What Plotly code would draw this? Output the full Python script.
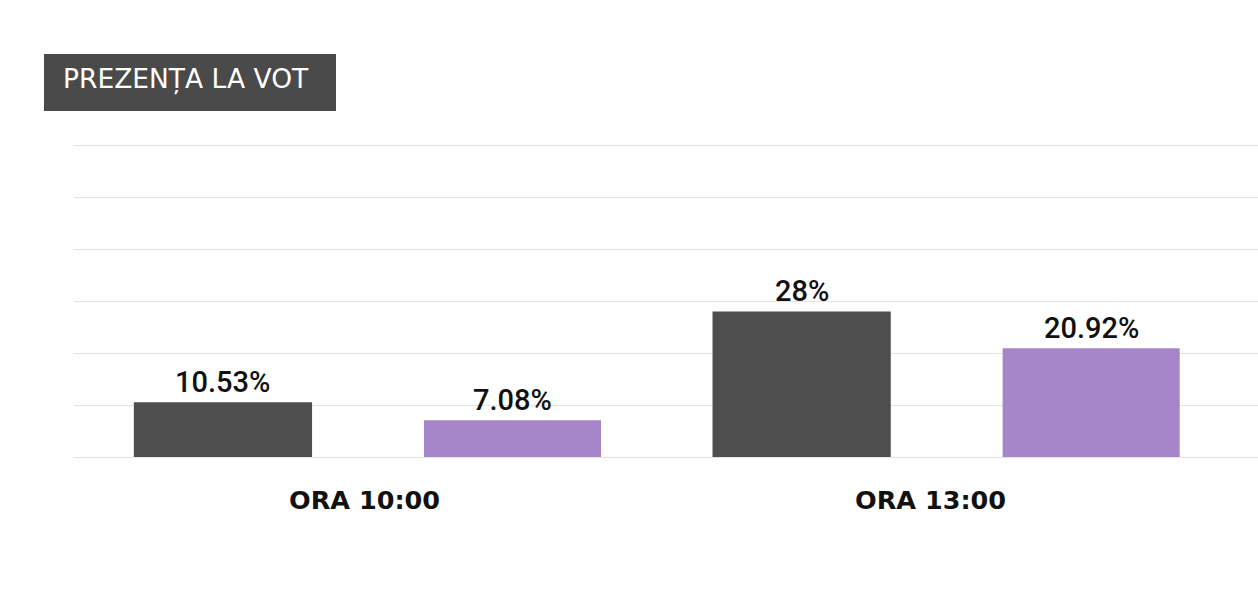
import plotly.graph_objects as go

categories = ["ORA 10:00", "ORA 13:00"]
series_a = [10.53, 28.0]      # dark
series_b = [7.08, 20.92]      # purple
labels_a = ["10.53%", "28%"]
labels_b = ["7.08%", "20.92%"]
title_text = "PREZENȚA LA VOT"

DARK = "#4e4e4e"
PURPLE = "#a686c8"

fig = go.Figure()
xs = list(range(len(categories)))
fig.add_trace(go.Bar(x=xs, y=series_a, marker=dict(color=DARK, line=dict(width=0)),
                     width=0.308, offset=-0.4036, hoverinfo="skip"))
fig.add_trace(go.Bar(x=xs, y=series_b, marker=dict(color=PURPLE, line=dict(width=0)),
                     width=0.306, offset=0.0977, hoverinfo="skip"))

ann = []
vfont = dict(family="Roboto", size=29, color="#111111", weight=500)
for i in xs:
    ann.append(dict(x=i, y=series_a[i], xref="x", yref="y", text=labels_a[i], showarrow=False,
                    xanchor="center", yanchor="bottom", xshift=-144.5, yshift=1, font=vfont))
    ann.append(dict(x=i, y=series_b[i], xref="x", yref="y", text=labels_b[i], showarrow=False,
                    xanchor="center", yanchor="bottom", xshift=145, yshift=1, font=vfont))
cat_shift = [-3, -16]
for i, c in enumerate(categories):
    ann.append(dict(x=i, y=0, xref="x", yref="y", text=c, showarrow=False,
                    xanchor="center", yanchor="middle", xshift=cat_shift[i], yshift=-43,
                    font=dict(family="DejaVu Sans", size=25.5, color="#111111", weight=700)))

W, H = 1258, 592
L, R, T, B = 74, 0, 144, 135
pw, ph = W - L - R, H - T - B
YMAX = 60.2
def px(x): return (x - L) / pw
def py(y): return (H - B - y) / ph

ann.append(dict(x=px(61), y=py(79), xref="paper", yref="paper", text=title_text,
                showarrow=False, xanchor="left", yanchor="middle",
                font=dict(family="DejaVu Sans", size=26.5, color="#ffffff")))

fig.update_layout(
    width=W, height=H,
    margin=dict(l=L, r=R, t=T, b=B),
    paper_bgcolor="white", plot_bgcolor="white",
    showlegend=False,
    barmode="overlay",
    annotations=ann,
    shapes=[dict(type="rect", xref="paper", yref="paper",
                 x0=px(44), x1=px(336), y0=py(111), y1=py(54),
                 fillcolor="#4a4a4a", line=dict(width=0), layer="above")],
    xaxis=dict(range=[-0.507, 1.539], showticklabels=False, showgrid=False,
               zeroline=False, showline=False, ticks=""),
    yaxis=dict(range=[0, YMAX], dtick=10, showticklabels=False, showgrid=True,
               gridcolor="#e3e3e3", gridwidth=1, zeroline=True, zerolinecolor="#e3e3e3",
               zerolinewidth=1, showline=False, ticks=""),
)

fig.write_html("out.html")
